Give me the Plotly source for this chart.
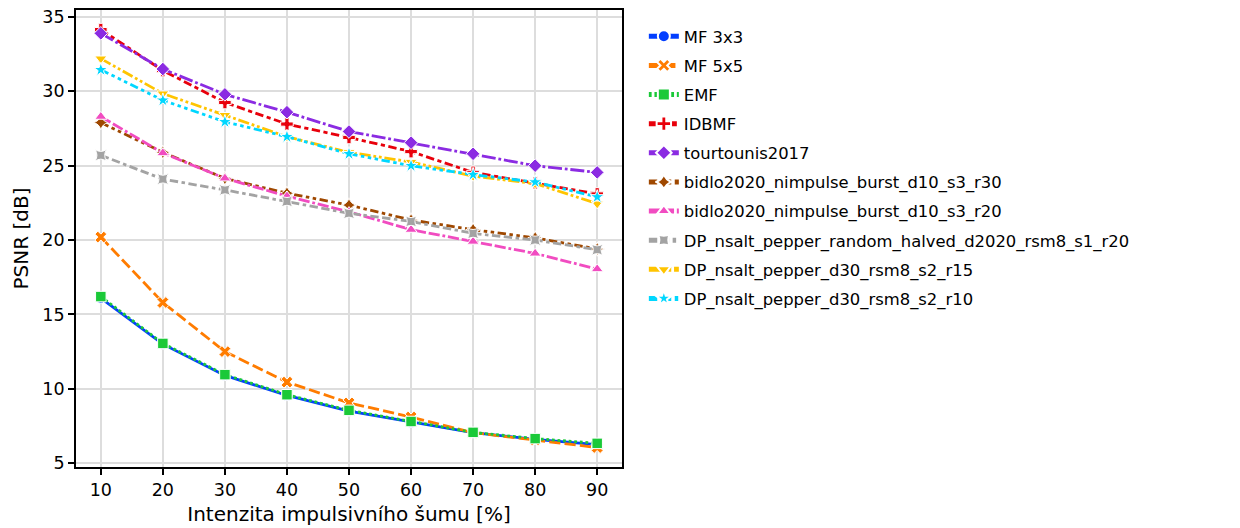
import plotly.graph_objects as go

x_vals = [10, 20, 30, 40, 50, 60, 70, 80, 90]

names = [
    "MF 3x3", "MF 5x5", "EMF", "IDBMF", "tourtounis2017",
    "bidlo2020_nimpulse_burst_d10_s3_r30",
    "bidlo2020_nimpulse_burst_d10_s3_r20",
    "DP_nsalt_pepper_random_halved_d2020_rsm8_s1_r20",
    "DP_nsalt_pepper_d30_rsm8_s2_r15",
    "DP_nsalt_pepper_d30_rsm8_s2_r10",
]

mf3 = [16.1, 13.0, 10.9, 9.55, 8.5, 7.75, 7.05, 6.6, 6.25]
mf5 = [20.2, 15.8, 12.5, 10.45, 9.05, 8.1, 7.05, 6.55, 6.05]
emf = [16.2, 13.05, 10.95, 9.6, 8.55, 7.8, 7.07, 6.65, 6.33]
idbmf = [34.15, 31.4, 29.25, 27.8, 26.9, 25.95, 24.55, 23.85, 23.1]
tourtounis = [33.9, 31.5, 29.8, 28.6, 27.3, 26.55, 25.8, 25.0, 24.55]
bidlo_r30 = [27.9, 25.9, 24.15, 23.15, 22.35, 21.35, 20.7, 20.15, 19.4]
bidlo_r20 = [28.3, 25.85, 24.15, 22.95, 21.9, 20.7, 19.9, 19.1, 18.05]
dp_halved = [25.7, 24.1, 23.37, 22.6, 21.8, 21.25, 20.45, 20.0, 19.35]
dp_r15 = [32.2, 29.85, 28.4, 26.95, 25.9, 25.25, 24.3, 23.8, 22.45]
dp_r10 = [31.45, 29.4, 27.95, 26.95, 25.8, 25.0, 24.4, 23.9, 22.9]

series = [mf3, mf5, emf, idbmf, tourtounis, bidlo_r30, bidlo_r20, dp_halved, dp_r15, dp_r10]

colors = ["#023eff", "#ff7c00", "#1ac938", "#e8000b", "#8b2be2",
          "#9f4800", "#f14cc1", "#a3a3a3", "#ffc400", "#00d7ff"]

symbols = ["circle", "x", "square", "cross", "diamond",
           "star-diamond", "triangle-up", "star-square", "triangle-down", "star"]

lw = 2.8
dash_units = [
    None,
    (4, 1.5),
    (1, 1),
    (3, 1.25, 1.5, 1.25),
    (5, 1, 1, 1),
    (3, 1.25, 1.25, 1.25, 1.25, 1.25),
    (4, 1, 4, 1, 1, 1),
    (3, 1.25, 3, 1.25, 1.25, 1.25),
    (4, 1, 1, 1, 1, 1),
    (3, 1.25, 1.25, 1.25, 1.25, 1.25, 1.25, 1.25),
]


def dash_str(d):
    if d is None:
        return "solid"
    return ",".join(f"{v * lw:.1f}px" for v in d)


fig = go.Figure()
for name, ys, c, s, d in zip(names, series, colors, symbols, dash_units):
    fig.add_trace(go.Scatter(
        x=x_vals, y=ys, name=name, legendgroup=name, mode="lines+markers",
        line=dict(color=c, width=lw, dash=dash_str(d)),
        marker=dict(symbol=s, size=10.5, color=c, line=dict(color="white", width=1)),
    ))

font = "DejaVu Sans, Liberation Sans, sans-serif"
fig.update_layout(
    width=1240, height=528,
    margin=dict(l=76, r=618, t=10, b=61),
    plot_bgcolor="white", paper_bgcolor="white",
    font=dict(family=font, size=16.4, color="black"),
    showlegend=True,
    legend=dict(x=1.04, y=0.98, xanchor="left", yanchor="top",
                font=dict(size=16.4), bgcolor="rgba(0,0,0,0)",
                tracegroupgap=4.8, itemsizing="constant"),
)
fig.update_xaxes(
    range=[6, 94], tickvals=x_vals, ticks="outside", ticklen=6, tickwidth=1.5,
    tickfont=dict(size=17.5),
    tickcolor="black", showline=True, linecolor="black", linewidth=1.8, mirror=True,
    showgrid=True, gridcolor="#dddddd", gridwidth=1.5, zeroline=False, automargin=False,
    title=dict(text="Intenzita impulsivního šumu [%]", standoff=8),
)
fig.update_yaxes(
    range=[4.74, 35.47], tickvals=[5, 10, 15, 20, 25, 30, 35], ticks="outside", ticklen=6,
    tickfont=dict(size=17.5),
    tickwidth=1.5, tickcolor="black", showline=True, linecolor="black", linewidth=1.8,
    mirror=True, showgrid=True, gridcolor="#dddddd", gridwidth=1.5, zeroline=False,
    automargin=False,
    title=dict(text="PSNR [dB]", standoff=8),
)

fig.write_html(
    "out.html",
    config={"displayModeBar": False},
    post_script="document.body.style.margin='0';document.body.style.overflow='hidden';",
)
